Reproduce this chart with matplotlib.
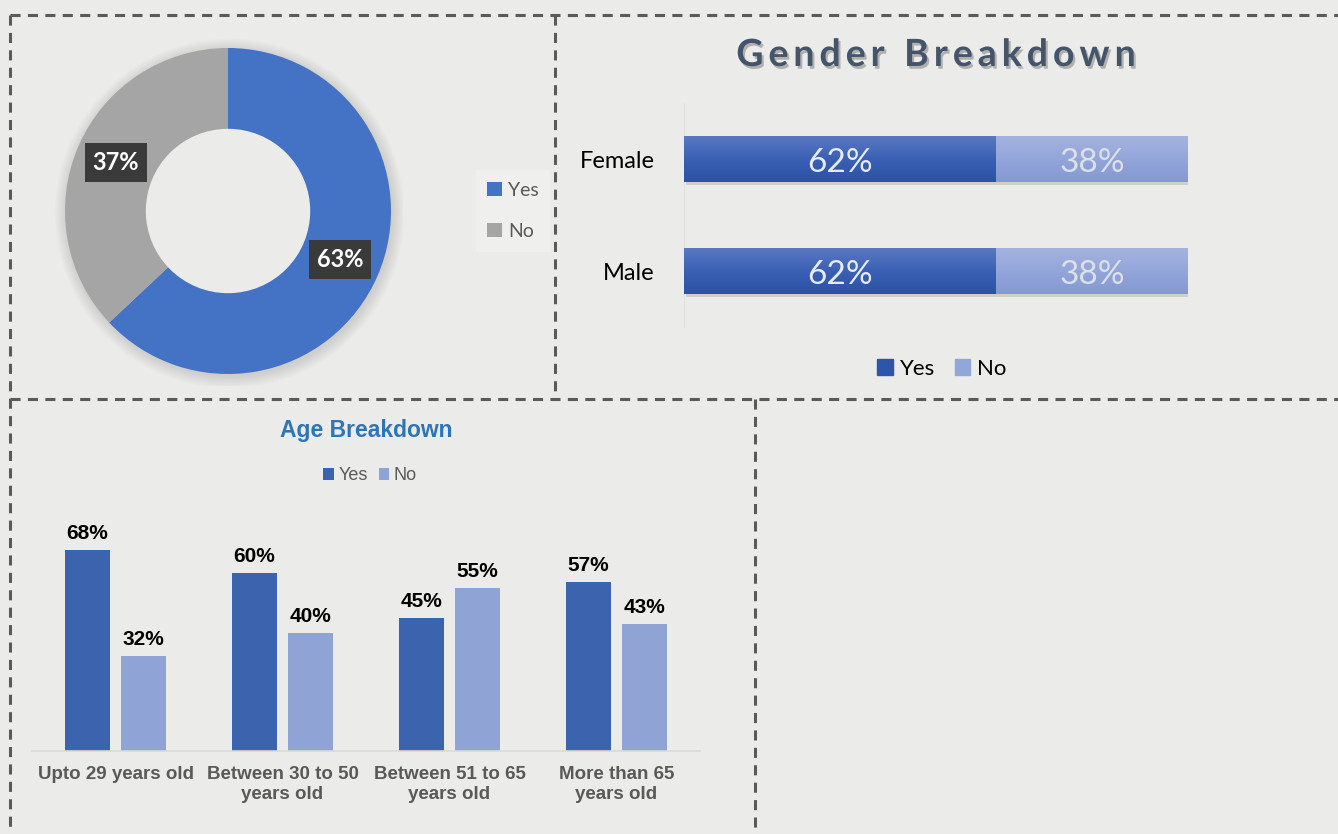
import numpy as np
import matplotlib
matplotlib.use("Agg")
import matplotlib.pyplot as plt
import matplotlib.patheffects as pe
from matplotlib.lines import Line2D
from matplotlib.patches import Patch, Circle
from matplotlib.colors import LinearSegmentedColormap

# data
donut_labels = ["Yes", "No"]
donut_values = [63, 37]

gender_cats = ["Male", "Female"]
gender_yes = [62, 62]
gender_no = [38, 38]

age_cats = ["Upto 29 years old", "Between 30 to 50\nyears old",
            "Between 51 to 65\nyears old", "More than 65\nyears old"]
age_yes = [68, 60, 45, 57]
age_no = [32, 40, 55, 43]

W, H = 1338, 834
BG = "#EBEBE9"


def box(x0, y0, x1, y1):
    # pixel box (top-left origin) -> figure fraction
    return [x0 / W, 1 - y1 / H, (x1 - x0) / W, (y1 - y0) / H]


def fxy(x, y):
    return (x / W, 1 - y / H)


fig = plt.figure(figsize=(W / 100, H / 100), dpi=100, facecolor=BG)
renderer = fig.canvas.get_renderer()

# dashed panel borders
segs = [((10, 15), (1338, 15)), ((10, 15), (10, 834)), ((555, 15), (555, 399)),
        ((10, 399), (1338, 399)), ((755, 399), (755, 834))]
for (xa, ya), (xb, yb) in segs:
    fig.add_artist(Line2D([xa / W, xb / W], [1 - ya / H, 1 - yb / H],
                          transform=fig.transFigure, color="#5A5A5A", lw=2.2,
                          linestyle=(0, (3.3, 2.4))))

# ---------------- donut ----------------
axd = fig.add_axes(box(228 - 175, 211 - 175, 228 + 175, 211 + 175))
axd.set_facecolor("none")
for i in range(10):
    axd.add_patch(Circle((0.01, -0.015), 1.0 + 0.008 * i, color="#9A9A9A",
                         alpha=0.035, lw=0, zorder=0))
wedges, _, autot = axd.pie(donut_values, colors=["#4472C4", "#A5A5A5"],
                           startangle=90, counterclock=False, radius=1,
                           wedgeprops=dict(width=0.5, edgecolor="none"),
                           autopct="%d%%", pctdistance=0.75)
axd.add_patch(Circle((0, 0), 0.5, color=BG, zorder=5))
for t in autot:
    t.set_color("white")
    t.set_fontfamily("Lato")
    t.set_fontweight("bold")
    t.set_fontsize(17)
    t.set_bbox(dict(boxstyle="square,pad=0.32", facecolor="#3A3A3A", edgecolor="none"))
axd.set_xlim(-175 / 163, 175 / 163)
axd.set_ylim(-175 / 163, 175 / 163)
axd.axis("off")

leg = fig.legend(wedges, donut_labels, loc="center", bbox_to_anchor=fxy(513, 211),
                 frameon=True, facecolor="#EFEFED", edgecolor="none", framealpha=1,
                 fancybox=False, handlelength=0.75, handleheight=0.75,
                 handletextpad=0.3, labelspacing=1.25, borderpad=0.6,
                 prop=dict(family="Lato", size=14))
for t in leg.get_texts():
    t.set_color("#595959")

# ---------------- gender ----------------
axg = fig.add_axes(box(684, 103, 1188, 327))
axg.set_facecolor("none")
yes_c = LinearSegmentedColormap.from_list("yes", ["#2C52A5", "#3A60B4", "#5A78C2"])
no_c = LinearSegmentedColormap.from_list("no", ["#8598D2", "#93A6DA", "#A3B2E0"])
ypos = np.arange(len(gender_cats))
b1 = axg.barh(ypos, gender_yes, height=0.41, color="#3458AC", zorder=2)
b2 = axg.barh(ypos, gender_no, left=gender_yes, height=0.41, color="#93A6DA", zorder=2)
grad = np.linspace(0, 1, 64).reshape(-1, 1)
for bars, cm in ((b1, yes_c), (b2, no_c)):
    for r in bars:
        r.set_path_effects([pe.SimplePatchShadow(offset=(1.5, -2.5), alpha=0.25,
                                                 shadow_rgbFace="#7A7A7A"),
                            pe.Normal()])
        x, y = r.get_xy()
        axg.imshow(grad, extent=[x, x + r.get_width(), y, y + r.get_height()],
                   origin="lower", aspect="auto", cmap=cm, zorder=3)
for i in range(len(gender_cats)):
    axg.text(gender_yes[i] / 2, ypos[i] - 0.04, f"{gender_yes[i]}%", ha="center",
             va="center", color="#E6EBF6", fontsize=24, family="Lato", zorder=4)
    axg.text(gender_yes[i] + gender_no[i] / 2, ypos[i] - 0.04, f"{gender_no[i]}%",
             ha="center", va="center", color="#DDE0E8", fontsize=24, family="Lato", zorder=4)
axg.set_xlim(0, 100)
axg.set_ylim(-0.5, 1.5)
axg.set_xticks([])
axg.set_yticks(ypos, gender_cats)
axg.tick_params(axis="y", length=0, pad=21, labelsize=17)
for t in axg.get_yticklabels():
    t.set_fontfamily("Lato")
    t.set_color("black")
for s in ("top", "right", "bottom"):
    axg.spines[s].set_visible(False)
axg.spines["left"].set_color("#E0E0E0")

# title with letter spacing: place the characters one by one
title = "Gender Breakdown"
tkw = dict(fontsize=27, family="Lato", fontweight="bold", color="#44546A", va="center",
           path_effects=[pe.withSimplePatchShadow(offset=(1.5, -2), shadow_rgbFace="#777777",
                                                  alpha=0.5)])
track = 5.0
widths = []
for ch in title:
    tt = fig.text(0, 0, ch if ch != " " else "n", **tkw)
    w = tt.get_window_extent(renderer).width
    widths.append(w * (0.45 if ch == " " else 1.0))
    tt.remove()
total = sum(widths) + track * (len(title) - 1)
cx = 936 - total / 2
for ch, w in zip(title, widths):
    if ch != " ":
        fig.text(*fxy(cx, 55), ch, ha="left", **tkw)
    cx += w + track

gl = fig.legend([Patch(color="#2E56A8"), Patch(color="#93A6DA")], ["Yes", "No"],
                loc="center", bbox_to_anchor=fxy(942, 369), ncol=2, frameon=False,
                handlelength=0.7, handleheight=0.7, handletextpad=0.3,
                columnspacing=0.9, prop=dict(family="Lato", size=16))

# ---------------- age ----------------
axa = fig.add_axes(box(32, 480, 700, 751))
axa.set_facecolor("none")
xa = np.arange(len(age_cats))
ba1 = axa.bar(xa - 0.167, age_yes, 0.27, color="#3C63AE", label="Yes")
ba2 = axa.bar(xa + 0.167, age_no, 0.27, color="#8FA4D5", label="No")
for bars in (ba1, ba2):
    axa.bar_label(bars, fmt="%d%%", padding=5, fontsize=15, fontweight="bold",
                  family="Liberation Sans", color="black")
axa.set_xlim(-0.5, 3.5)
axa.set_ylim(0, (751 - 480) / 2.96)
axa.set_yticks([])
axa.set_xticks(xa, age_cats)
axa.tick_params(axis="x", length=0, pad=11, labelsize=13.5)
for t in axa.get_xticklabels():
    t.set_fontfamily("Liberation Sans")
    t.set_fontweight("bold")
    t.set_color("#595959")
for s in ("top", "right", "left"):
    axa.spines[s].set_visible(False)
axa.spines["bottom"].set_color("#D9D9D9")
axa.spines["bottom"].set_linewidth(1.2)

fig.text(*fxy(366, 430), "Age Breakdown", ha="center", va="center", fontsize=16.5,
         family="Liberation Sans", fontweight="bold", color="#2E75B6")
al = fig.legend([ba1, ba2], ["Yes", "No"], loc="center", bbox_to_anchor=fxy(370, 476),
                ncol=2, frameon=False, handlelength=0.6, handleheight=0.6,
                handletextpad=0.25, columnspacing=0.6,
                prop=dict(family="Liberation Sans", size=13))
for t in al.get_texts():
    t.set_color("#595959")

fig.savefig("out.png", dpi=100, facecolor=BG)
